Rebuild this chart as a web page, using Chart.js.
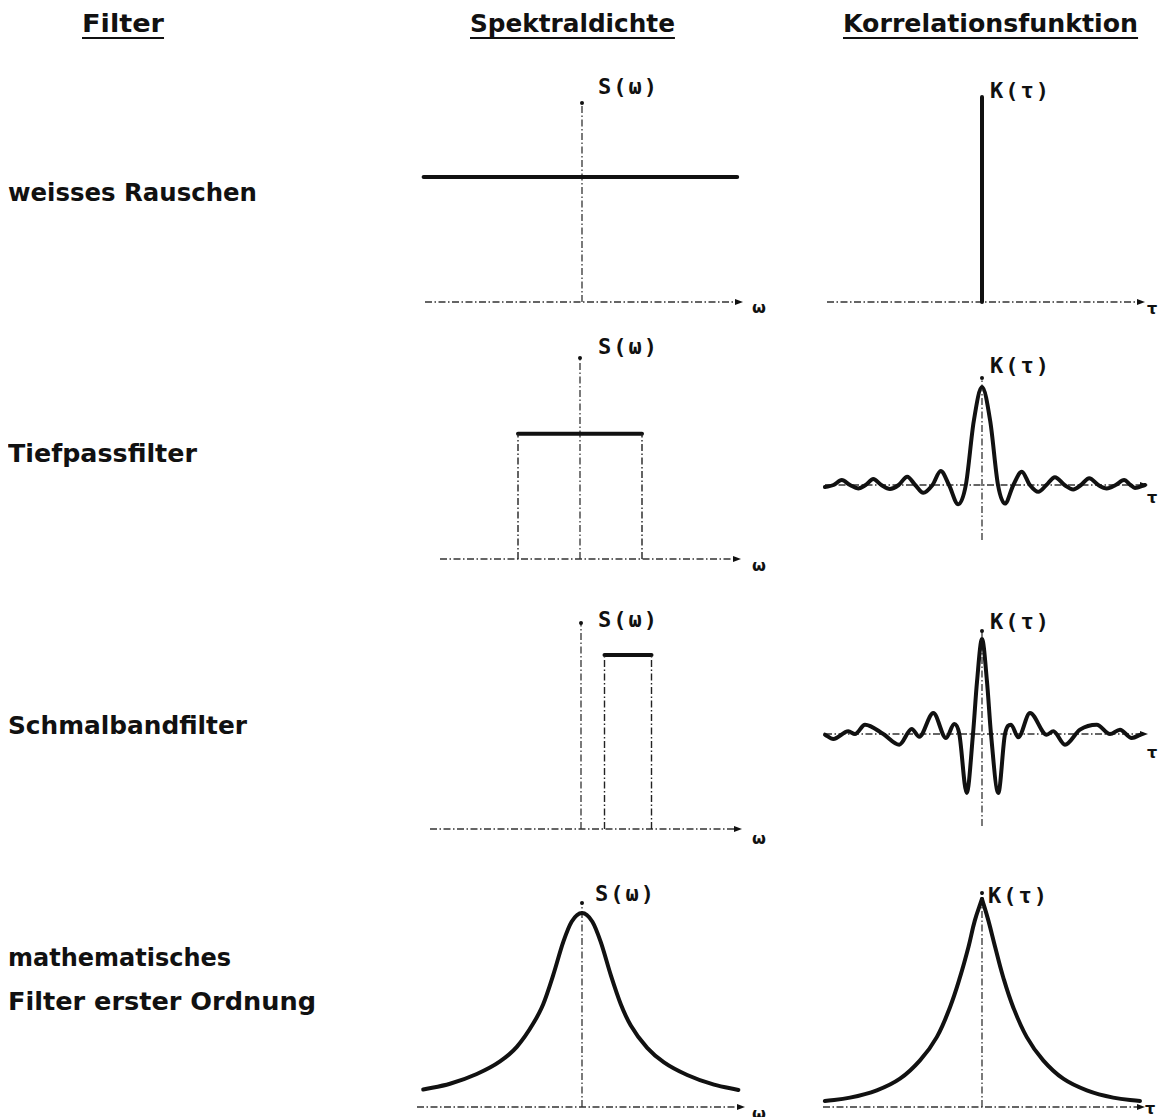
<!DOCTYPE html>
<html>
<head>
<meta charset="utf-8">
<script src="https://cdn.jsdelivr.net/npm/chart.js@4.4.1/dist/chart.umd.min.js"></script>
<style>
  html, body { margin: 0; padding: 0; background: #fff; }
  body { width: 1162px; height: 1117px; position: relative; overflow: hidden; color: #111; font-family: "DejaVu Sans", sans-serif; }
  .t { position: absolute; white-space: nowrap; line-height: 1; transform-origin: 0 0; }
  .head { font-weight: bold; font-size: 25px; text-decoration: underline; text-decoration-thickness: 2px; text-underline-offset: 5px; }
  .lab { font-weight: bold; font-size: 25px; }
  .ax { font-family: "DejaVu Sans Mono", monospace; font-weight: bold; font-size: 22px; letter-spacing: 2px; }
  .var { font-weight: bold; font-size: 16px; }
  canvas { position: absolute; }
</style>
</head>
<body>

<div class="t head" style="left:82px;top:11px" data-w="82">Filter</div>
<div class="t head" style="left:470px;top:11px" data-w="205">Spektraldichte</div>
<div class="t head" style="left:843px;top:11px" data-w="295">Korrelationsfunktion</div>

<div class="t lab" style="left:8px;top:180px" data-w="249">weisses Rauschen</div>
<div class="t lab" style="left:8px;top:441px" data-w="189">Tiefpassfilter</div>
<div class="t lab" style="left:8px;top:713px" data-w="239">Schmalbandfilter</div>
<div class="t lab" style="left:8px;top:945px" data-w="223">mathematisches</div>
<div class="t lab" style="left:8px;top:989px" data-w="308">Filter erster Ordnung</div>

<div class="t ax" style="left:598px;top:76px">S(ω)</div>
<div class="t ax" style="left:990px;top:80px">K(τ)</div>
<div class="t ax" style="left:598px;top:336px">S(ω)</div>
<div class="t ax" style="left:990px;top:355px">K(τ)</div>
<div class="t ax" style="left:598px;top:609px">S(ω)</div>
<div class="t ax" style="left:990px;top:611px">K(τ)</div>
<div class="t ax" style="left:595px;top:883px">S(ω)</div>
<div class="t ax" style="left:988px;top:885px">K(τ)</div>

<div class="t var" style="left:752px;top:300px">ω</div>
<div class="t var" style="left:1147px;top:301px">τ</div>
<div class="t var" style="left:752px;top:558px">ω</div>
<div class="t var" style="left:1147px;top:490px">τ</div>
<div class="t var" style="left:752px;top:831px">ω</div>
<div class="t var" style="left:1147px;top:745px">τ</div>
<div class="t var" style="left:752px;top:1106px">ω</div>
<div class="t var" style="left:1145px;top:1101px">τ</div>

<script>
// weisses Rauschen
const s1Omega = [-0.99, 0.97];
const s1Value = [0.625, 0.625];
const k1Tau = [0, 0];
const k1Value = [0, 1];

// Tiefpassfilter
const s2Omega = [-1, 1];
const s2Value = [0.62, 0.62];
const k2Tau = [-9.52, -9.0, -8.5, -8.0, -7.5, -7.05, -6.59, -6.1, -5.58, -5.05, -4.53, -4.05, -3.56, -3.0, -2.5, -2.0, -1.44, -0.98, -0.5, 0,
               0.5, 0.97, 1.39, 1.9, 2.41, 2.9, 3.41, 3.9, 4.42, 5.0, 5.53, 6.0, 6.5, 7.05, 7.56, 8.1, 8.61, 9.0, 9.27, 9.88];
const k2Value = [-0.02, 0, 0.05, 0, -0.035, 0, 0.06, 0, -0.04, 0, 0.085, 0, -0.08, 0, 0.143, 0, -0.197, 0, 0.65, 1.0,
                 0.65, 0, -0.19, 0, 0.136, 0, -0.07, 0, 0.08, 0, -0.045, 0, 0.07, 0, -0.035, 0, 0.05, 0, -0.03, 0];

// Schmalbandfilter
const s3Omega = [1, 3];
const s3Value = [0.84, 0.84];
const k3Tau = [-15.7, -14.87, -13.37, -12.7, -11.7, -9.87, -8.27, -7.03, -6.27, -4.87, -3.6, -2.77, -2.27, -1.53, -0.9, -0.5, 0,
               0.5, 0.9, 1.63, 2.3, 2.9, 3.63, 4.8, 6.47, 7.13, 8.3, 9.8, 11.47, 12.8, 13.8, 14.97, 15.97];
const k3Value = [-0.007, -0.053, 0.028, 0, 0.098, 0, -0.112, 0.053, -0.028, 0.221, -0.042, 0.105, 0, -0.62, 0, 0.55, 1.0,
                 0.55, 0, -0.62, 0, 0.098, -0.035, 0.221, -0.007, 0.028, -0.112, 0.046, 0.098, 0, 0.046, -0.042, 0];

// mathematisches Filter erster Ordnung
const s4Omega = [-3.97, -3.3, -2.63, -2.05, -1.63, -1.22, -0.97, -0.72, -0.47, -0.26, 0,
                 0.26, 0.47, 0.72, 0.97, 1.22, 1.63, 2.05, 2.63, 3.3, 3.91];
const s4Value = [0.09, 0.12, 0.17, 0.235, 0.31, 0.43, 0.53, 0.68, 0.85, 0.955, 1.0,
                 0.955, 0.85, 0.68, 0.53, 0.42, 0.305, 0.23, 0.165, 0.115, 0.088];
const k4TauLeft = [-3.93, -3.3, -2.63, -2.05, -1.55, -1.13, -0.8, -0.55, -0.34, -0.18, 0];
const k4ValueLeft = [0.029, 0.045, 0.08, 0.136, 0.224, 0.336, 0.48, 0.624, 0.768, 0.896, 1.0];
const k4TauRight = [0, 0.16, 0.33, 0.53, 0.78, 1.12, 1.53, 2.03, 2.62, 3.28, 3.95];
const k4ValueRight = [1.0, 0.896, 0.768, 0.624, 0.48, 0.336, 0.224, 0.136, 0.08, 0.045, 0.029];

const PAD = 8;
const INK = '#111';

function pts(xs, ys) {
    return xs.map((x, i) => ({ x: x, y: ys[i] }));
}

// smooth: 'monotone' keeps extremes flat, 'bezier' gives a soft spline
function curve(xs, ys, smooth) {
    return {
        data: pts(xs, ys),
        borderColor: INK,
        borderWidth: 4,
        pointRadius: 0,
        showLine: true,
        cubicInterpolationMode: smooth === 'monotone' ? 'monotone' : 'default',
        tension: smooth === 'bezier' ? 0.4 : 0,
        borderCapStyle: 'round',
        borderJoinStyle: 'round',
        clip: false
    };
}

// solid top plus dash-dot sides of a band
function band(xs, ys) {
    const sides = xs.map((x, i) => ({
        data: [{ x: x, y: 0 }, { x: x, y: ys[i] }],
        borderColor: '#222',
        borderWidth: 1.4,
        borderDash: [7, 2.5, 1.5, 2.5],
        pointRadius: 0,
        showLine: true,
        clip: false
    }));
    return sides.concat([curve(xs, ys)]);
}

const axesPlugin = {
    id: 'axes',
    beforeDatasetsDraw(chart, args, opts) {
        const { ctx, chartArea: a, scales: { x, y } } = chart;
        const px0 = x.getPixelForValue(0);
        const py0 = y.getPixelForValue(0);
        ctx.save();
        ctx.strokeStyle = '#333';
        ctx.lineWidth = 1.3;
        ctx.setLineDash([7, 2.5, 1.5, 2.5]);
        ctx.beginPath();
        ctx.moveTo(a.left, py0);
        ctx.lineTo(a.right - 6, py0);
        ctx.stroke();
        if (opts.vertical) {
            ctx.beginPath();
            ctx.moveTo(px0, a.bottom);
            ctx.lineTo(px0, a.top);
            ctx.stroke();
        }
        ctx.setLineDash([]);
        ctx.fillStyle = INK;
        ctx.beginPath();
        ctx.moveTo(a.right, py0);
        ctx.lineTo(a.right - 8, py0 - 3);
        ctx.lineTo(a.right - 8, py0 + 3);
        ctx.closePath();
        ctx.fill();
        if (opts.vertical) {
            ctx.beginPath();
            ctx.arc(px0, a.top + 1, 2, 0, Math.PI * 2);
            ctx.fill();
        }
        ctx.restore();
    }
};

// pixel frames of the eight small diagrams
const panels = [
    { left: 425, right: 743, top: 102, bottom: 302, x0: 582, y0: 302, ux: 160, uy: 200, vertical: true,
      datasets: [curve(s1Omega, s1Value)] },
    { left: 827, right: 1145, top: 97, bottom: 302, x0: 982, y0: 302, ux: 160, uy: 205, vertical: false,
      datasets: [curve(k1Tau, k1Value)] },
    { left: 440, right: 741, top: 357, bottom: 559, x0: 580, y0: 559, ux: 62, uy: 202, vertical: true,
      datasets: band(s2Omega, s2Value) },
    { left: 825, right: 1148, top: 377, bottom: 540, x0: 982, y0: 485, ux: 16.5, uy: 98, vertical: true,
      datasets: [curve(k2Tau, k2Value, 'monotone')] },
    { left: 430, right: 742, top: 622, bottom: 829, x0: 581, y0: 829, ux: 23.5, uy: 207, vertical: true,
      datasets: band(s3Omega, s3Value) },
    { left: 825, right: 1148, top: 630, bottom: 826, x0: 982, y0: 734, ux: 10, uy: 95, vertical: true,
      datasets: [curve(k3Tau, k3Value, 'monotone')] },
    { left: 417, right: 745, top: 902, bottom: 1107, x0: 582, y0: 1107, ux: 40, uy: 194, vertical: true,
      datasets: [curve(s4Omega, s4Value, 'monotone')] },
    { left: 823, right: 1145, top: 892, bottom: 1107, x0: 982, y0: 1107, ux: 40, uy: 208, vertical: true,
      datasets: [curve(k4TauLeft, k4ValueLeft, 'bezier'), curve(k4TauRight, k4ValueRight, 'bezier')] }
];

panels.forEach(p => {
    const canvas = document.createElement('canvas');
    const w = p.right - p.left + 2 * PAD;
    const h = p.bottom - p.top + 2 * PAD;
    canvas.width = w;
    canvas.height = h;
    canvas.style.left = (p.left - PAD) + 'px';
    canvas.style.top = (p.top - PAD) + 'px';
    canvas.style.width = w + 'px';
    canvas.style.height = h + 'px';
    document.body.appendChild(canvas);

    new Chart(canvas.getContext('2d'), {
        type: 'scatter',
        data: { datasets: p.datasets },
        options: {
            responsive: false,
            animation: false,
            devicePixelRatio: 1,
            events: [],
            layout: { padding: PAD },
            plugins: {
                legend: { display: false },
                tooltip: { enabled: false },
                axes: { vertical: p.vertical }
            },
            scales: {
                x: { type: 'linear', display: false, min: (p.left - p.x0) / p.ux, max: (p.right - p.x0) / p.ux },
                y: { type: 'linear', display: false, min: (p.y0 - p.bottom) / p.uy, max: (p.y0 - p.top) / p.uy }
            }
        },
        plugins: [axesPlugin]
    });
});

// stretch the text blocks to the widths in the original
document.querySelectorAll('[data-w]').forEach(el => {
    const target = parseFloat(el.dataset.w);
    const actual = el.getBoundingClientRect().width;
    if (actual > 0) el.style.transform = 'scaleX(' + (target / actual).toFixed(3) + ')';
});
</script>
</body>
</html>
